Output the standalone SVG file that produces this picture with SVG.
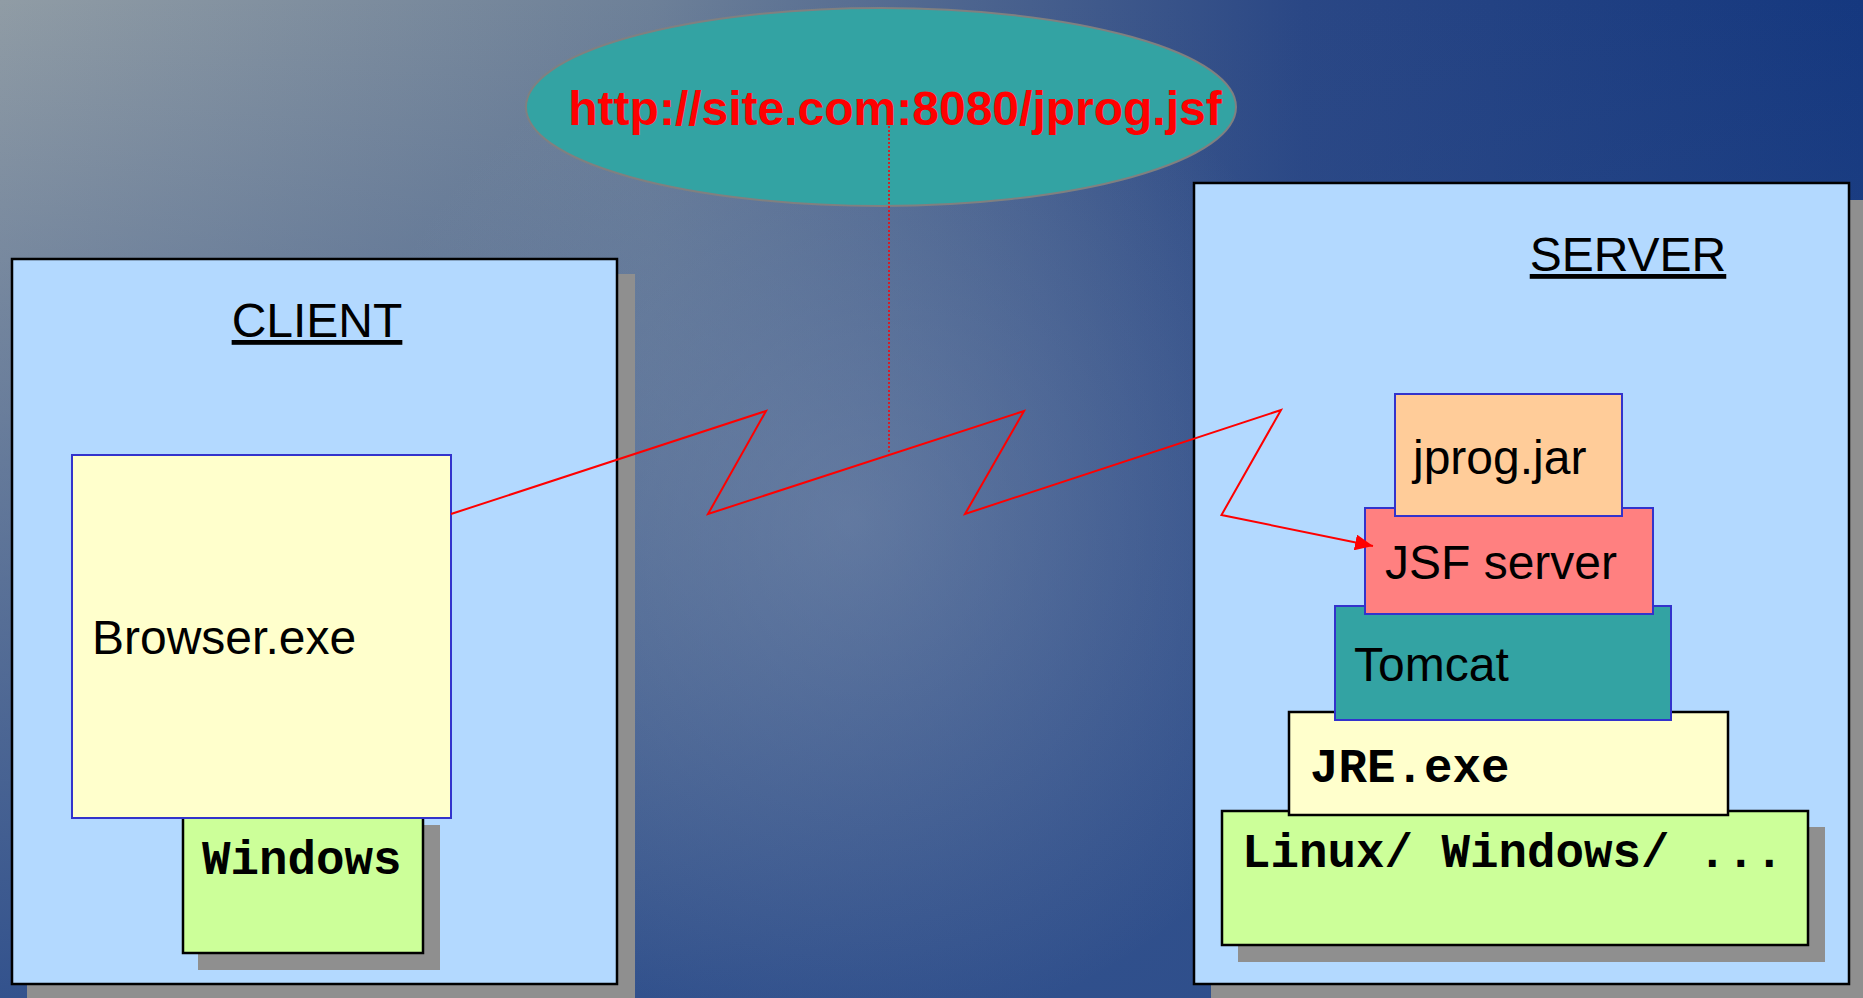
<svg xmlns="http://www.w3.org/2000/svg" width="1863" height="998" viewBox="0 0 1863 998">
<defs>
<linearGradient id="bgh" gradientUnits="userSpaceOnUse" x1="0" y1="0" x2="1863" y2="0">
<stop offset="0" stop-color="#909ca5"/>
<stop offset="0.35" stop-color="#6d8098"/>
<stop offset="0.7" stop-color="#2a4785"/>
<stop offset="1" stop-color="#15387f"/>
</linearGradient>
<linearGradient id="bgv" gradientUnits="userSpaceOnUse" x1="0" y1="0" x2="0" y2="1040">
<stop offset="0" stop-color="#2f4f8c" stop-opacity="0"/>
<stop offset="1" stop-color="#2f4f8c" stop-opacity="1"/>
</linearGradient>
<radialGradient id="bghl" gradientUnits="userSpaceOnUse" cx="850" cy="520" r="520">
<stop offset="0" stop-color="#9aaac0" stop-opacity="0.35"/>
<stop offset="1" stop-color="#9aaac0" stop-opacity="0"/>
</radialGradient>
<marker id="arrow" markerUnits="userSpaceOnUse" markerWidth="20" markerHeight="16" refX="18" refY="8" orient="auto">
<path d="M0,0 L18,8 L0,16 Z" fill="#ff0000"/>
</marker>
<style>
.sans{font-family:"Liberation Sans",Arial,sans-serif;font-size:48px;fill:#000}
.mono{font-family:"Liberation Mono","Courier New",monospace;font-size:47.5px;font-weight:bold;fill:#000}
.shadow{fill:#8f8f8f}
.outer{fill:#b3d9ff;stroke:#000;stroke-width:2.5}
.blue{stroke:#3333cc;stroke-width:2}
.black{stroke:#000;stroke-width:2.5}
</style>
</defs>
<rect x="0" y="0" width="1863" height="998" fill="url(#bgh)"/>
<rect x="0" y="0" width="1863" height="998" fill="url(#bgv)"/>
<rect x="0" y="0" width="1863" height="998" fill="url(#bghl)"/>

<g id="url">
<ellipse cx="881" cy="107" rx="355" ry="99" fill="#33a3a3" stroke="#808080" stroke-width="2"/>
<text x="895" y="125" text-anchor="middle" font-family="'Liberation Sans',Arial,sans-serif" font-size="48" font-weight="bold" fill="#ff0000">http://site.com:8080/jprog.jsf</text>
</g>

<g id="client">
<rect class="shadow" x="27" y="274" width="608" height="730"/>
<rect class="outer" x="12" y="259" width="605" height="725"/>
<text class="sans" x="317" y="337" text-anchor="middle" text-decoration="underline">CLIENT</text>
</g>

<g id="windows">
<rect class="shadow" x="198" y="825" width="242" height="145"/>
<rect class="black" x="183" y="810" width="240" height="143" fill="#ccff99"/>
<text class="mono" x="202" y="874">Windows</text>
</g>

<g id="browser">
<rect class="blue" x="72" y="455" width="379" height="363" fill="#ffffcc"/>
<text class="sans" x="92" y="654">Browser.exe</text>
</g>

<g id="server">
<rect class="shadow" x="1211" y="200" width="660" height="810"/>
<rect class="outer" x="1194" y="183" width="655" height="801"/>
<text class="sans" x="1628" y="271" text-anchor="middle" text-decoration="underline">SERVER</text>
</g>

<g id="os">
<rect class="shadow" x="1238" y="827" width="587" height="135"/>
<rect class="black" x="1222" y="811" width="586" height="134" fill="#ccff99"/>
<text class="mono" font-size="47" x="1242" y="867">Linux/ Windows/ ...</text>
</g>

<g id="jre">
<rect class="black" x="1289" y="712" width="439" height="103" fill="#ffffcc"/>
<text class="mono" x="1310" y="782">JRE.exe</text>
</g>

<g id="tomcat">
<rect class="blue" x="1335" y="606" width="336" height="114" fill="#33a3a3"/>
<text class="sans" x="1354" y="681">Tomcat</text>
</g>

<g id="jsf">
<rect class="blue" x="1365" y="508" width="288" height="106" fill="#ff8080"/>
<text class="sans" x="1385" y="579">JSF server</text>
</g>

<g id="jprog">
<rect class="blue" x="1395" y="394" width="227" height="122" fill="#ffcc99"/>
<text class="sans" x="1413" y="474">jprog.jar</text>
</g>

<g id="connectors" fill="none" stroke="#ff0000">
<line x1="889" y1="126" x2="889" y2="455" stroke-width="1.5" stroke-dasharray="2,2"/>
<polyline points="451,514 766,411 708,514 1024,411 965,514 1281,410 1221.5,515 1373,546" stroke-width="2" stroke-linejoin="miter" marker-end="url(#arrow)"/>
</g>
</svg>
